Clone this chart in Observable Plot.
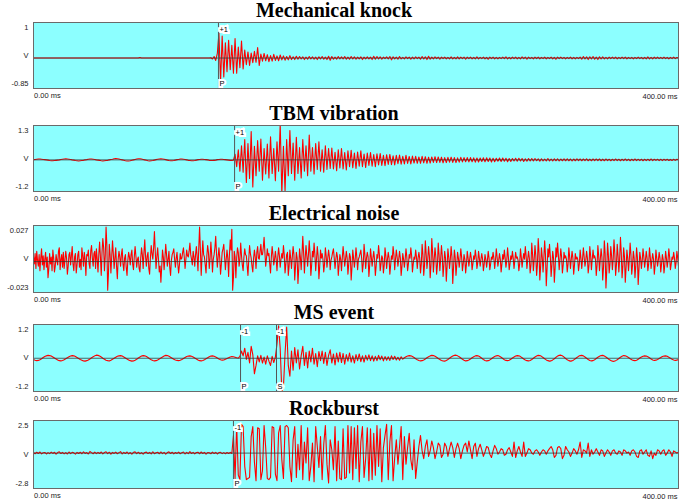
<!DOCTYPE html>
<html><head><meta charset="utf-8">
<script src="https://cdn.jsdelivr.net/npm/d3@7"></script>
<script src="https://cdn.jsdelivr.net/npm/@observablehq/plot@0.6"></script>
<style>
html,body{margin:0;padding:0;background:#fff}
#root{position:relative;width:685px;height:503px;overflow:hidden}
.title{position:absolute;left:0;width:668px;text-align:center;font:bold 20px/20px "Liberation Serif","Times New Roman",serif;color:#000;white-space:nowrap}
</style></head><body>
<div id="root"></div>
<script>
// sample intervals (ms)
const sampleMs = 1;
const noiseSampleMs = 0.5;
const timeTicks = ["0.00 ms", "400.00 ms"];
const panelTitles = ["Mechanical knock", "TBM vibration", "Electrical noise", "MS event", "Rockburst"];

// amplitude ranges (V) and their labels
const knockRange = [-0.85, 1];   const knockRangeLabels = ["-0.85", "1"];
const tbmRange = [-1.2, 1.3];    const tbmRangeLabels = ["-1.2", "1.3"];
const noiseRange = [-0.023, 0.027]; const noiseRangeLabels = ["-0.023", "0.027"];
const msRange = [-1.2, 1.2];     const msRangeLabels = ["-1.2", "1.2"];
const rockRange = [-2.8, 2.5];   const rockRangeLabels = ["-2.8", "2.5"];

// picks (ms)
const knockPicks = [{t: 114.7, polarity: "+1", phase: "P"}];
const tbmPicks = [{t: 124.7, polarity: "+1", phase: "P"}];
const noisePicks = [];
const msPicks = [{t: 128.4, polarity: "-1", phase: "P"}, {t: 150.7, polarity: "-1", phase: "S"}];
const rockPicks = [{t: 124, polarity: "-1", phase: "P"}];

// traces (V)
const knock = [
0,0,0,0,0,0,0,0,0,0, 0,0,0,0,0,0,0,0,0,0, 0,0,0,0,0,0,0,0,0,0,
0,0,0,0,0,0,0,0,0,0, 0,0,0,0,0,0,0,0,0,0, 0,0,0,0,0,0,0,0,0,0,
0,0,0,0,0,0,.02,0,0,0, 0,0,0,0,0,0,0,0,0,0, 0,0,0,0,0,0,0,0,0,0,
0,0,0,0,0,0,0,0,0,0, 0,0,0,0,0,0,0,0,0,0,
.01,-.03,.05,-.08,.15,.82,-.8,.72,-.62,.5,
-.45,.58,-.38,.42,-.5,.64,-.5,.36,-.32,.56,
-.36,.26,-.22,.2,-.24,.16,-.15,.22,-.14,.34,
-.24,.13,-.1,.15,-.09,.11,-.12,.08,-.1,.12,
-.08,.07,-.09,.1,-.06,.07,-.07,.05,-.06,.08,
-.05,.04,-.05,.06,-.04,.05,-.03,.04,-.05,.03,
-.04,.05,-.03,.04,-.04,.03,-.05,.04,-.03,.05,
-.04,.03,-.05,.06,-.07,.05,-.04,.03,-.04,.05,
-.03,.04,-.03,.05,-.04,.03,-.04,.05,-.03,.04,
-.04,.03,-.03,.04,-.05,.03,-.03,.04,-.03,.03,
-.05,.06,-.04,.05,-.03,.04,-.04,.03,-.02,.04,
-.03,.05,-.06,.04,-.03,.03,-.04,.05,-.03,.02,
-.03,.04,-.02,.03,-.04,.03,-.03,.04,-.02,.03,
-.04,.05,-.03,.04,-.05,.06,-.04,.03,-.03,.04,
-.02,.03,-.04,.03,-.02,.03,-.03,.02,-.03,.04,
-.03,.02,-.03,.04,-.03,.03,-.02,.03,-.04,.03,
-.02,.03,-.03,.02,-.03,.04,-.03,.02,-.02,.03,
-.03,.02,-.04,.03,-.02,.03,-.03,.02,-.03,.02,
-.02,.03,-.02,.04,-.03,.02,-.03,.03,-.02,.03,
-.03,.02,-.03,.04,-.02,.03,-.04,.03,-.02,.02,
-.03,.03,-.02,.03,-.03,.02,-.02,.03,-.03,.02,
-.02,.03,-.03,.02,-.04,.03,-.02,.03,-.02,.02,
-.03,.02,-.02,.03,-.03,.02,-.03,.02,-.02,.03,
-.04,.05,-.03,.04,-.05,.04,-.03,.05,-.04,.03,
-.05,.04,-.03,.04,-.03,.02,-.03,.03,-.02,.03,
-.02,.03,-.03,.02,-.02,.03,-.02,.03,-.03,.02,
-.02,.02,-.03,.02,-.02,.03,-.02,.02,-.03,.02,
-.03,.04,-.03,.02,-.03,.03,-.02,.03,-.02,.02,
-.02,.03,-.02,.02,-.03,.02,-.02,.03,-.02,.02,
0];

const tbm = [
.01,.02,.03,.04,.04,.03,.02,.01,0,-.01,
-.03,-.04,-.04,-.03,-.02,-.01,0,.02,.03,.04,
.05,.04,.03,.02,0,-.01,-.03,-.04,-.05,-.04,
-.03,-.02,0,.01,.03,.04,.04,.03,.02,0,
-.01,-.02,-.04,-.05,-.04,-.03,-.02,0,.02,.03,
.05,.06,.05,.04,.02,0,-.02,-.04,-.05,-.05,
-.04,-.02,0,.02,.04,.05,.05,.04,.02,0,
-.02,-.04,-.05,-.04,-.03,-.01,.01,.03,.04,.05,
.04,.03,.01,-.01,-.03,-.04,-.04,-.03,-.01,.01,
.02,.04,.04,.03,.02,0,-.02,-.03,-.04,-.04,
-.03,-.01,.01,.02,.03,.03,.02,.01,0,-.02,
-.03,-.03,-.02,-.01,.01,.02,.03,.03,.02,.01,
0,-.01,-.02,-.02,-.01,.25,-.3,.45,-.5,.62,
-.55,.9,-1,.72,-.82,1.25,-1.2,.6,-.7,.85,
-.5,.92,-.9,.5,-.62,.7,-.8,1.02,-.6,.5,
-.92,.8,-.5,1.6,-1.5,.6,-1.4,.9,-.7,1.3,
-.6,.75,-.9,1.0,-.6,.55,-.8,.9,-.5,.62,
-.7,1.1,-.5,.55,-.62,.72,-.42,.8,-.5,.45,
-.55,.62,-.42,.5,-.38,.52,-.4,.34,-.48,.45,
-.36,.5,-.4,.32,-.45,.4,-.3,.42,-.35,.3,
-.38,.35,-.28,.4,-.3,.26,-.34,.3,-.25,.32,
-.28,.24,-.3,.27,-.22,.28,-.25,.2,-.26,.23,
-.2,.24,-.21,.18,-.22,.2,-.17,.21,-.19,.16,
-.18,.2,-.16,.15,-.18,.17,-.14,.16,-.15,.13,
-.15,.16,-.13,.14,-.15,.12,-.14,.13,-.11,.14,
-.12,.13,-.11,.12,-.13,.1,-.12,.11,-.1,.12,
-.11,.1,-.12,.09,-.1,.11,-.09,.1,-.08,.1,
-.09,.1,-.08,.09,-.1,.08,-.09,.08,-.07,.09,
-.08,.09,-.07,.08,-.09,.07,-.08,.07,-.06,.08,
-.07,.08,-.06,.07,-.08,.06,-.07,.06,-.05,.07,
-.06,.07,-.05,.06,-.07,.05,-.06,.06,-.05,.06,
-.05,.06,-.04,.05,-.06,.05,-.05,.04,-.05,.06,
-.05,.04,-.05,.05,-.04,.05,-.05,.04,-.04,.05,
-.04,.05,-.04,.04,-.05,.04,-.04,.05,-.03,.04,
-.04,.04,-.03,.05,-.04,.03,-.04,.04,-.03,.04,
-.03,.04,-.04,.03,-.04,.04,-.03,.03,-.04,.03,
-.03,.04,-.03,.03,-.04,.03,-.03,.04,-.03,.03,
-.04,.03,-.03,.04,-.03,.03,-.03,.03,-.04,.03,
-.03,.03,-.03,.04,-.03,.03,-.02,.03,-.03,.03,
-.03,.03,-.02,.03,-.03,.02,-.03,.03,-.02,.03,
0];

const noise = [
.004,-.002,.007,-.006,.009,.001,-.004,.006,-.008,.003,.011,-.003,.005,-.007,.002,.008,-.005,.004,-.014,-.006,
.007,-.002,.004,-.008,.01,.003,-.009,-.004,.006,.001,-.003,.009,.012,-.007,.002,.006,-.005,.008,-.006,.001,
.009,.003,-.011,-.004,.006,.008,-.003,.005,.013,-.002,-.008,.004,.007,-.01,-.003,.006,.009,-.005,.002,-.007,
.012,.005,-.004,.008,.002,-.012,.006,.005,.01,-.002,-.006,.009,.014,.003,-.004,.007,.009,-.006,.011,.002,
-.009,.006,.017,.004,-.012,.008,.02,.012,-.008,.005,.03,.014,-.025,-.01,.015,.006,-.01,.004,.018,.007,
-.006,.003,.012,-.004,-.015,.002,.009,.004,-.004,.006,.011,-.002,-.008,.003,.006,-.005,-.012,.001,.008,.004,
-.003,.006,.01,-.002,-.007,.004,.013,.005,-.005,.002,.004,-.006,-.009,.003,.012,.006,-.006,.008,.019,.004,
-.004,.005,.008,-.006,-.011,.003,.014,.007,.002,.012,.026,.009,-.006,.004,.012,.002,-.009,-.004,-.018,-.005,
.01,.004,-.007,.003,.015,.006,-.004,.002,.009,-.005,-.012,.001,.006,.008,.011,.002,-.005,.003,.008,-.002,
-.01,-.003,.007,.002,.003,.008,.012,.004,-.006,.002,.01,.005,.004,.009,.016,.006,.002,-.003,.009,.004,
-.004,.006,.013,.004,-.008,.012,.03,.01,-.012,.004,.018,.006,.004,-.003,-.01,.005,.014,.008,-.006,.003,
.017,.006,-.009,.002,.006,.012,.022,.007,-.005,.004,.012,.003,-.011,-.002,.008,.011,.015,.004,-.007,.002,
.01,.003,-.013,.006,.019,.01,.028,-.025,-.014,.009,.004,-.014,.003,.012,.008,-.004,.002,.016,.005,-.003,
-.008,.004,.011,.006,.005,-.004,-.012,.002,.014,.007,.003,-.004,-.009,.003,.01,.004,-.006,.008,.013,.003,
.002,.009,.015,.006,.006,.012,.021,.008,-.004,.003,.011,.005,.007,-.002,-.01,.004,.013,.006,-.003,.002,
.009,.002,-.008,.004,.012,.005,-.005,.002,.007,.003,.014,.006,-.01,-.002,.006,.008,-.012,-.004,.01,.003,
-.006,.004,.013,.006,-.016,-.004,.008,.003,-.019,-.006,.011,.004,-.007,.006,.022,.008,-.01,.003,.014,.005,
-.004,.006,.018,.007,-.012,-.003,.009,.004,.016,.006,-.008,.002,.013,.005,-.015,-.004,.01,.003,.007,.002,
-.009,-.002,.012,.005,-.005,.003,.01,.004,-.007,.001,.004,.008,.011,.003,-.006,.002,.008,.004,-.012,-.003,
.006,.002,-.008,.003,.013,.005,-.004,.002,.009,.003,-.011,-.002,.007,.004,-.016,-.005,.01,.003,-.005,.002,
.012,.004,-.007,.002,.004,.007,.01,.003,-.009,-.002,.015,.006,-.006,.003,.008,.004,-.013,-.003,.011,.004,
-.004,.003,.009,.002,-.012,-.004,.006,.003,.014,.006,-.008,-.002,.005,.003,-.01,-.003,.012,.005,-.006,.002,
.008,.003,-.011,-.003,.005,.002,.013,.006,-.007,.002,.01,.004,-.004,.002,.009,.003,-.012,-.004,.007,.002,
-.005,.002,.011,.004,-.008,-.002,.006,.003,.012,.005,-.009,-.002,.004,.002,.01,.004,-.006,.003,.008,.003,
-.01,-.002,.015,.006,-.012,-.003,.018,.007,-.006,.002,.013,.005,-.014,-.003,.02,.008,-.009,.002,.012,.004,
-.011,-.003,.016,.006,-.008,.002,.014,.005,-.013,-.003,.009,.003,-.017,-.004,.011,.004,-.006,.002,.013,.004,
-.019,-.005,.01,.004,-.012,-.003,.008,.003,-.005,.002,.011,.004,-.008,-.002,.006,.002,-.01,-.002,.009,.003,
-.004,.002,.008,.003,-.007,-.002,.005,.002,.01,.004,-.006,-.001,.009,.003,-.004,.002,.007,.002,-.008,-.002,
.006,.002,-.005,.001,.009,.003,-.007,-.002,.004,.002,.008,.003,-.006,.001,.011,.004,-.004,.001,.007,.002,
-.009,-.002,.006,.002,.01,.003,-.005,.001,.012,.004,-.007,-.002,.005,.002,.009,.003,-.006,.001,.008,.003,
.004,.001,-.008,-.002,.011,.004,-.005,.002,.007,.002,.013,.005,-.006,.002,.009,.003,-.01,-.003,.016,.006,
-.008,.002,.014,.005,-.012,-.003,.02,.008,-.016,-.004,.012,.004,-.009,.003,.018,.006,-.021,-.006,.011,.004,
.015,.005,-.013,-.003,.009,.003,-.018,-.005,.012,.004,.016,.006,-.007,.002,.011,.004,-.01,-.003,.008,.003,
.005,.002,-.009,-.002,.012,.004,-.006,.002,.009,.003,-.011,-.003,.007,.002,.004,.002,-.008,-.002,.01,.003,
-.006,.002,.012,.004,-.004,.001,.009,.003,-.01,-.003,.013,.005,-.007,.002,.01,.003,.005,.002,-.012,-.003,
.014,.005,-.008,.002,.011,.004,-.016,-.005,.018,.007,-.023,-.008,.016,.006,-.01,-.002,.013,.005,-.007,.002,
.019,.007,-.012,-.003,.015,.005,-.009,.002,.021,.008,-.014,-.004,.012,.004,-.018,-.005,.01,.003,-.008,.002,
.016,.006,-.011,-.003,.009,.003,-.014,-.004,.012,.004,-.02,-.006,.008,.003,-.006,.001,.011,.004,-.005,.001,
.009,.003,-.008,-.002,.012,.004,-.006,.001,.007,.002,-.011,-.003,.01,.003,-.004,.001,.008,.003,-.009,-.002,
.006,.002,-.01,-.003,.009,.003,-.005,.001,.011,.004,-.007,-.002,.004,.002,.008,.003,-.006,-.001,.009,.003,
-.004];

const ms = [
-.05,-.08,-.1,-.09,-.06,-.02,.03,.07,.1,.12,
.11,.09,.05,.01,-.03,-.07,-.1,-.11,-.09,-.06,
-.02,.02,.06,.09,.11,.1,.07,.03,-.01,-.05,
-.08,-.11,-.12,-.1,-.07,-.03,.02,.06,.1,.13,
.12,.09,.05,0,-.04,-.08,-.1,-.11,-.08,-.04,
0,.04,.08,.1,.11,.09,.05,.01,-.03,-.07,
-.1,-.12,-.11,-.08,-.04,.01,.05,.09,.11,.1,
.07,.03,-.02,-.06,-.09,-.11,-.1,-.07,-.03,.01,
.05,.09,.12,.11,.08,.04,0,-.04,-.07,-.09,
-.1,-.08,-.05,-.01,.03,.07,.09,.1,.08,.05,
.01,-.03,-.07,-.1,-.11,-.09,-.06,-.02,.02,.06,
.09,.1,.08,.05,.01,-.03,-.06,-.08,-.07,-.04,
-.01,.02,.05,.07,.06,.04,.02,.01,.08,.3,
.1,.42,-.05,.25,-.2,.5,.15,-.65,-.3,.1,
-.15,.12,-.2,.05,-.25,.1,-.12,-.3,.08,-.18,
.05,.6,1.35,.4,-1.4,-1.2,.2,1.3,-.3,-.75,
.3,-.5,.45,-.2,.35,-.45,.1,.5,-.3,.25,
-.4,.3,-.15,.42,-.25,.2,-.35,.28,-.1,.3,
-.22,.25,-.3,.12,.35,-.2,.18,-.28,.22,-.15,
.25,-.18,.2,-.25,.15,-.12,.22,-.16,.1,-.2,
.15,-.1,.18,-.14,.1,-.16,.12,-.08,.14,-.1,
.1,-.12,.08,-.1,.12,-.06,.09,-.11,.07,-.08,
.06,-.09,.1,-.05,.08,-.07,.04,-.08,.06,-.04,
.02,.06,.09,.11,.1,.07,.03,-.02,-.06,-.09,
-.11,-.1,-.07,-.03,.02,.06,.1,.12,.11,.08,
.04,-.01,-.05,-.09,-.11,-.12,-.09,-.05,0,.05,
.09,.12,.13,.1,.06,.01,-.04,-.08,-.11,-.1,
-.07,-.03,.02,.06,.1,.11,.09,.05,0,-.05,
-.09,-.11,-.1,-.07,-.02,.03,.07,.1,.11,.08,
.04,-.01,-.06,-.09,-.1,-.08,-.04,.01,.05,.09,
.11,.1,.07,.02,-.03,-.07,-.1,-.11,-.09,-.05,
0,.05,.09,.12,.11,.08,.03,-.02,-.07,-.1,
-.12,-.11,-.07,-.02,.04,.09,.12,.13,.1,.05,
-.01,-.06,-.1,-.12,-.11,-.07,-.02,.03,.08,.11,
.12,.1,.05,0,-.05,-.09,-.11,-.1,-.06,-.01,
.04,.08,.11,.12,.09,.05,0,-.05,-.09,-.12,
-.13,-.1,-.06,-.01,.04,.08,.11,.1,.07,.03,
-.02,-.06,-.09,-.1,-.08,-.04,.01,.05,.08,.1,
.09,.06,.02,-.03,-.07,-.09,-.08,-.05,-.01,.03,
.07,.09,.1,.08,.04,0,-.04,-.07,-.09,-.08,
-.05];

const rock = [
.05,-.06,.08,-.04,.1,-.07,.03,.06,-.08,.04,
-.05,.09,-.03,.07,-.1,.05,.12,-.04,.06,-.07,
.04,-.08,.1,-.05,.07,.02,-.09,.06,-.04,.08,
-.06,.11,-.03,.05,-.08,.15,.04,-.06,.09,-.05,
.07,-.04,.1,-.07,.05,.12,-.05,.08,-.1,.06,
-.03,.09,-.06,.04,.13,-.08,.06,-.04,.1,-.07,
.05,-.09,.07,.11,-.05,.08,-.06,.04,-.1,.06,
.09,-.04,.06,-.07,.12,-.05,.03,.08,-.06,.1,
-.05,.07,-.09,.05,.11,-.04,.08,-.07,.05,-.03,
.09,-.06,.04,.1,-.08,.06,-.05,.13,-.04,.07,
-.07,.05,.08,-.06,.1,-.04,.07,-.09,.05,.03,
-.06,.09,-.04,.06,-.08,.05,.07,-.05,.04,-.06,
.05,-.04,.06,-.03,1.6,-2.3,2.5,-2.0,-2.4,2.6,
2.4,-1.2,-2.4,-2.3,-2.2,1.5,2.4,-.8,-2.5,2.3,
2.2,-2.4,-1.6,2.5,.5,-2.3,-2.4,-2.2,2.4,2.3,
-1.9,-2.5,1.8,2.5,-.6,-2.3,2.4,2.5,2.3,-1.2,
-2.6,1.2,2.4,-2.2,.8,-1.5,2.5,-2.4,1.0,-.9,
2.3,-2.5,-1.2,.9,-2.6,2.4,.6,-1.3,1.5,-2.4,
.8,2.5,-1.0,-2.7,1.2,.3,-1.5,2.4,-2.5,1.1,
-2.3,-2.4,2.2,-2.3,-2.2,2.5,-1.8,2.4,-2.4,2.3,
-1.4,2.5,-2.6,1.0,2.4,-2.2,-.5,2.3,-2.5,2.2,
-2.4,1.8,-2.0,2.5,-1.2,2.2,-2.6,.5,1.6,2.6,
-2.4,1.0,2.5,-2.5,-.4,1.2,-1.0,.6,2.4,-2.4,
1.5,-1.0,.5,1.8,-.6,-1.5,1.2,-2.3,-.8,.6,
1.6,.2,-.5,.6,1.2,-.3,.2,1.1,.5,-.5,
.1,.9,.7,-.4,-.1,.9,.6,-.3,.4,1.0,
.5,-.4,.4,.9,.4,-.5,.2,.7,.9,.1,
1.1,.3,-.5,.6,.9,-.3,.4,.8,.3,-.3,
.1,.6,.5,-.1,-.4,.2,.7,.4,-.1,.1,
.4,.3,-.2,-.1,.3,.5,.1,-.3,1.0,-.4,
.2,.6,.1,-.3,1.0,-.3,0,.4,.3,0,
-.1,.2,.3,.1,-.2,.1,.3,.2,-.1,.2,
.4,.6,.3,-.4,-.2,.5,.6,.4,-.5,-.2,
.6,.3,.1,-.3,0,.4,.2,-.1,.3,1.0,
-.4,.3,.2,0,.9,-.3,.3,-.1,.1,.4,
.1,-.2,.3,.2,-.3,0,.3,.1,-.2,.2,
.3,0,-.1,.2,.1,-.2,.3,.2,0,.1,
-.2,.2,.3,.1,-.3,-.4,.2,.3,-.1,.1,
.3,-.2,-.3,.2,-.5,0,-.2,.3,.2,-.1,
.2,.3,-.2,0,.3,.1,-.3,.2,.1,0,
.1];

const series = [
  {title: panelTitles[0], values: knock, dt: sampleMs, range: knockRange, rangeLabels: knockRangeLabels, picks: knockPicks},
  {title: panelTitles[1], values: tbm, dt: sampleMs, range: tbmRange, rangeLabels: tbmRangeLabels, picks: tbmPicks},
  {title: panelTitles[2], values: noise, dt: noiseSampleMs, range: noiseRange, rangeLabels: noiseRangeLabels, picks: noisePicks},
  {title: panelTitles[3], values: ms, dt: sampleMs, range: msRange, rangeLabels: msRangeLabels, picks: msPicks},
  {title: panelTitles[4], values: rock, dt: sampleMs, range: rockRange, rangeLabels: rockRangeLabels, picks: rockPicks}
];

// layout (px)
const frames = [[22, 88], [125, 191], [225, 292], [324, 391], [420, 488]];
const W = 685, ML = 33, MR = 7, MT = 2, MB = 14;
const FONT = "'Liberation Sans', Arial, sans-serif";
const FS = 7.5;

const root = document.getElementById("root");
series.forEach((s, k) => {
  const [ft, fb] = frames[k];
  const title = document.createElement("div");
  title.className = "title";
  title.textContent = s.title;
  title.style.top = (ft - 5.5 - 16.75) + "px";
  root.appendChild(title);

  const chart = Plot.plot({
    width: W, height: (fb - ft) + MT + MB,
    marginLeft: ML, marginRight: MR, marginTop: MT, marginBottom: MB,
    x: {domain: [0, 400], axis: null},
    y: {domain: s.range, insetTop: 5, insetBottom: 4.5, axis: null},
    style: {fontFamily: FONT, background: "transparent", overflow: "visible"},
    marks: [
      Plot.frame({fill: "#8cffff", stroke: null}),
      Plot.lineY(s.values, {x: (d, i) => i * s.dt, stroke: "#ff0000", strokeWidth: 1.1, clip: true}),
      Plot.ruleY([0], {stroke: "#333", strokeWidth: 1, strokeOpacity: 0.75}),
      Plot.ruleX(s.picks, {x: "t", stroke: "#555", strokeWidth: 1}),
      Plot.text(s.picks, {x: "t", text: "polarity", frameAnchor: "top", lineAnchor: "middle", dy: 7, dx: 1, textAnchor: "start",
        fill: "#000", stroke: "#fff", strokeWidth: 4, strokeLinejoin: "miter", fontSize: FS}),
      Plot.text(s.picks, {x: "t", text: "phase", frameAnchor: "bottom", lineAnchor: "middle", dy: -5, dx: 1, textAnchor: "start",
        fill: "#000", stroke: "#fff", strokeWidth: 4, strokeLinejoin: "miter", fontSize: FS}),
      Plot.frame({stroke: "#6a6a6a", strokeWidth: 1}),
      Plot.text(s.range, {y: d => d, text: (d, i) => s.rangeLabels[i], frameAnchor: "left", textAnchor: "end", lineAnchor: "middle", dx: -5, fill: "#222", fontSize: FS}),
      Plot.text(["V"], {text: d => d, frameAnchor: "left", textAnchor: "end", lineAnchor: "middle", dx: -5, fill: "#222", fontSize: FS}),
      Plot.text([timeTicks[0]], {text: d => d, frameAnchor: "bottom-left", textAnchor: "start", lineAnchor: "middle", dy: 7.5, dx: 0.5, fill: "#222", fontSize: FS}),
      Plot.text([timeTicks[1]], {text: d => d, frameAnchor: "bottom-right", textAnchor: "end", lineAnchor: "middle", dy: 8.5, dx: -1, fill: "#222", fontSize: FS})
    ]
  });
  chart.style.position = "absolute";
  chart.style.left = "0px";
  chart.style.top = (ft - MT) + "px";
  root.appendChild(chart);
});
</script>
</body></html>
